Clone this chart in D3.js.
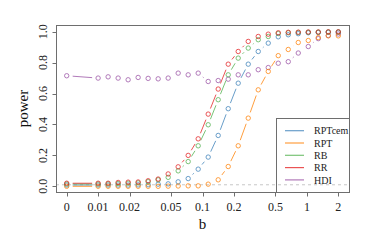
<!DOCTYPE html>
<html><head><meta charset="utf-8">
<script src="https://cdn.jsdelivr.net/npm/d3@7"></script>
<style>html,body{margin:0;padding:0;background:#fff;}svg{display:block;font-family:"Liberation Serif","Times New Roman",serif;}</style>
</head><body>
<script>
// b values: 0 followed by a log-spaced grid from 0.01 to 2
const bValues = [0, 0.01, 0.01247, 0.01555, 0.01939, 0.02418, 0.03015, 0.03761, 0.0469, 0.05848, 0.07293,
  0.09094, 0.1134, 0.1414, 0.1764, 0.2199, 0.2743, 0.342, 0.4265, 0.5318, 0.6632, 0.827, 1.0313, 1.2861, 1.6038, 2.0];
const RPTcem = [0.008, 0.008, 0.008, 0.008, 0.008, 0.009, 0.01, 0.014, 0.016, 0.029, 0.05, 0.111, 0.189, 0.329, 0.502,
  0.667, 0.79, 0.872, 0.926, 0.967, 0.98, 0.987, 0.993, 0.995, 0.996, 0.997];
const RPT = [0.0, 0.0, 0.0, 0.0, 0.0, 0.0, 0.0, 0.0, 0.001, 0.002, 0.003, 0.003, 0.014, 0.042, 0.128, 0.262, 0.441,
  0.624, 0.743, 0.845, 0.885, 0.93, 0.943, 0.962, 0.973, 0.973];
const RB = [0.015, 0.015, 0.016, 0.018, 0.02, 0.022, 0.03, 0.042, 0.058, 0.1, 0.16, 0.262, 0.398, 0.56, 0.721, 0.829,
  0.894, 0.948, 0.969, 0.988, 0.993, 0.995, 0.996, 0.997, 0.998, 0.998];
const RR = [0.02, 0.02, 0.02, 0.025, 0.027, 0.028, 0.036, 0.047, 0.08, 0.126, 0.2, 0.307, 0.467, 0.629, 0.79, 0.872,
  0.937, 0.969, 0.984, 0.993, 0.996, 0.997, 0.998, 0.998, 0.999, 0.999];
const HDI = [0.715, 0.70, 0.708, 0.70, 0.689, 0.704, 0.698, 0.695, 0.70, 0.732, 0.721, 0.732, 0.678, 0.684, 0.693, 0.721,
  0.721, 0.754, 0.768, 0.796, 0.806, 0.862, 0.904, 0.955, 0.975, 0.985];
const seriesNames = ["RPTcem", "RPT", "RB", "RR", "HDI"];
const seriesColors = ["#377eb8", "#ff7f00", "#4daf4a", "#e41a1c", "#984ea3"];
const xTickValues = [0, 0.01, 0.02, 0.05, 0.1, 0.2, 0.5, 1, 2];
const xTickLabels = ["0", "0.01", "0.02", "0.05", "0.1", "0.2", "0.5", "1", "2"];
const yTickValues = [0, 0.2, 0.4, 0.6, 0.8, 1.0];
const yTickLabels = ["0.0", "0.2", "0.4", "0.6", "0.8", "1.0"];
const refLine = 0.01;

const seriesValues = [RPTcem, RPT, RB, RR, HDI];
const W = 374, H = 249;
const L = 56, R = 349, T = 25, B = 192;
const zeroPos = 0.005;
const xs = d3.scaleLog().domain([zeroPos, 2]).range([66.7, 338.3]);
const x = v => xs(v === 0 ? zeroPos : v);
const y = d3.scaleLinear().domain([-0.04, 1.04]).range([B + 0.5, T + 0.5]);
const frameCol = "#6e6e6e";
const alpha = 0.75;

const svg = d3.select("body").append("svg").attr("width", W).attr("height", H);

// reference line
svg.append("line").attr("x1", L).attr("x2", R).attr("y1", y(refLine)).attr("y2", y(refLine))
  .attr("stroke", "#c8c8c8").attr("stroke-width", 1).attr("stroke-dasharray", "3,3");

// series (type = "b")
const order = [4, 0, 1, 2, 3];
const gap = 6;
order.forEach(si => {
  const vals = seriesValues[si];
  const col = seriesColors[si];
  const g = svg.append("g").attr("opacity", alpha);
  const pts = vals.map((v, i) => [x(bValues[i]), y(v)]);
  for (let i = 0; i < pts.length - 1; i++) {
    const [x1, y1] = pts[i], [x2, y2] = pts[i + 1];
    const dx = x2 - x1, dy = y2 - y1, d = Math.hypot(dx, dy);
    if (d > 2 * gap) {
      const ux = dx / d, uy = dy / d;
      g.append("line").attr("x1", x1 + ux * gap).attr("y1", y1 + uy * gap)
        .attr("x2", x2 - ux * gap).attr("y2", y2 - uy * gap)
        .attr("stroke", col).attr("stroke-width", 1);
    }
  }
  g.selectAll("circle").data(pts).join("circle")
    .attr("cx", d => d[0]).attr("cy", d => d[1]).attr("r", 2.2)
    .attr("fill", "none").attr("stroke", col).attr("stroke-width", 1);
});

// frame
svg.append("rect").attr("x", L + 0.5).attr("y", T + 0.5).attr("width", R - L).attr("height", B - T)
  .attr("fill", "none").attr("stroke", frameCol).attr("stroke-width", 1);

// x axis
const xg = svg.append("g");
xTickValues.forEach((v, i) => {
  const px = Math.round(x(v)) + 0.5;
  xg.append("line").attr("x1", px).attr("x2", px).attr("y1", B + 0.5).attr("y2", B + 4.5)
    .attr("stroke", frameCol).attr("stroke-width", 1);
  xg.append("text").attr("x", x(v)).attr("y", 210.5).attr("text-anchor", "middle")
    .attr("font-size", 12).attr("fill", "#222").text(xTickLabels[i]);
});
// y axis
const yg = svg.append("g");
yTickValues.forEach((v, i) => {
  const py = Math.round(y(v)) + 0.5;
  yg.append("line").attr("x1", L + 0.5).attr("x2", L - 3.5).attr("y1", py).attr("y2", py)
    .attr("stroke", frameCol).attr("stroke-width", 1);
  yg.append("text").attr("transform", `translate(47,${y(v)}) rotate(-90)`).attr("text-anchor", "middle")
    .attr("font-size", 12).attr("fill", "#222").text(yTickLabels[i]);
});

// axis titles
svg.append("text").attr("x", (L + R) / 2).attr("y", 228.5).attr("text-anchor", "middle")
  .attr("font-size", 15).attr("fill", "#111").text("b");
svg.append("text").attr("transform", `translate(28,${(T + B) / 2}) rotate(-90)`).attr("text-anchor", "middle")
  .attr("font-size", 15).attr("fill", "#111").text("power");

// legend
const lg = svg.append("g");
lg.append("rect").attr("x", 276.5).attr("y", 118.5).attr("width", R - 276).attr("height", B - 118)
  .attr("fill", "none").attr("stroke", frameCol).attr("stroke-width", 1);
seriesNames.forEach((name, i) => {
  const ry = 130.7 + 12.3 * i;
  lg.append("line").attr("x1", 285).attr("x2", 304).attr("y1", ry).attr("y2", ry)
    .attr("stroke", seriesColors[i]).attr("stroke-width", 1.2).attr("opacity", alpha);
  lg.append("text").attr("x", 314).attr("y", ry + 3.6).attr("font-size", 10).attr("fill", "#222").text(name);
});
</script>
</body></html>
